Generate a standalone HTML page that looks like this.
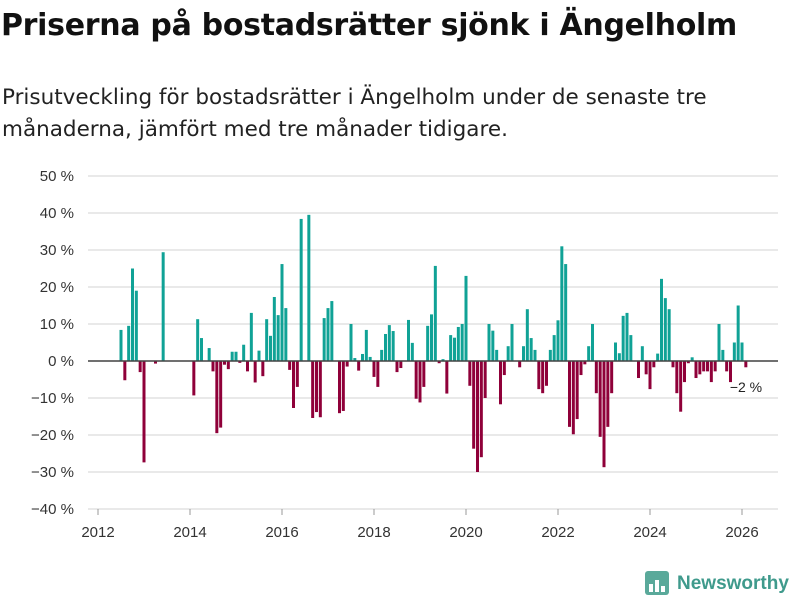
<!DOCTYPE html>
<html><head><meta charset="utf-8">
<style>
body{margin:0;background:#fff;font-family:"Liberation Sans","DejaVu Sans",sans-serif;}
#wrap{position:relative;width:800px;height:600px;overflow:hidden;}
h1{position:absolute;left:1px;top:8px;margin:0;font-family:"DejaVu Sans",sans-serif;font-size:30px;font-weight:bold;color:#111;letter-spacing:-0.3px;white-space:nowrap;}
p.sub{position:absolute;left:2px;top:82px;margin:0;font-family:"DejaVu Sans",sans-serif;font-size:21.5px;line-height:32px;color:#222;width:790px;white-space:nowrap;}
svg{position:absolute;left:0;top:0;}
</style></head><body>
<div id="wrap">
<h1>Priserna på bostadsrätter sjönk i Ängelholm</h1>
<p class="sub">Prisutveckling för bostadsrätter i Ängelholm under de senaste tre<br>månaderna, jämfört med tre månader tidigare.</p>
<svg id="chart" width="800" height="600"></svg>
</div>
<script>
const startYear = 2012;
const startMonthIndex = 6;
const values = [8.4,-5.2,9.5,25,19,-3,-27.4,null,null,-0.7,null,29.4,null,null,null,null,null,null,null,-9.3,11.3,6.2,null,3.5,-2.8,-19.5,-18,-1,-2.2,2.5,2.5,-0.5,4.4,-2.8,13,-5.8,2.8,-4.1,11.3,6.8,17.3,12.4,26.2,14.3,-2.4,-12.7,-7,38.4,null,39.5,-15.4,-13.8,-15.2,11.6,14.3,16.2,null,-14.1,-13.5,-1.5,10,0.8,-2.6,1.9,8.4,1.1,-4.3,-7,3,7.3,9.7,8.1,-3,-1.9,null,11.1,4.9,-10.2,-11.2,-7,9.5,12.6,25.7,-0.6,0.5,-8.8,7,6.3,9.2,10,23,-6.7,-23.7,-30,-26,-10,10,8.2,3,-11.7,-3.8,4,10,null,-1.7,4,14,6.2,3,-7.6,-8.7,-6.7,3,7,11,31,26.2,-17.8,-19.8,-15.7,-3.8,-0.9,4,10,-8.7,-20.5,-28.7,-17.8,-8.7,5,2.1,12.2,13,7,null,-4.6,4,-3.6,-7.6,-1.7,2,22.2,17,14,-1.7,-8.7,-13.7,-5.7,-0.6,1,-4.6,-3.6,-2.8,-2.8,-5.7,-2.8,10,3,-2.8,-5.7,5,15,5,-1.7];
const yTicks = [50,40,30,20,10,0,-10,-20,-30,-40];
const yTickLabels = ["50 %","40 %","30 %","20 %","10 %","0 %","−10 %","−20 %","−30 %","−40 %"];
const xTicks = [2012,2014,2016,2018,2020,2022,2024,2026];
const lastLabel = "−2 %";

const NS="http://www.w3.org/2000/svg";
const svg=document.getElementById('chart');
function yScale(v){return 361-(v*3.7);}
function xScale(yearFrac){return 98+(yearFrac-2012)*46;}
function mk(tag,attrs){const e=document.createElementNS(NS,tag);for(const k in attrs)e.setAttribute(k,attrs[k]);svg.appendChild(e);return e;}

yTicks.forEach((t,i)=>{
  const g=mk('line',{x1:88,x2:778,y1:yScale(t),y2:yScale(t),stroke:'#dcdcdc','stroke-width':1.2});
  
  
  const tx=mk('text',{x:74,y:yScale(t)+5,'text-anchor':'end','font-size':15,fill:'#333','font-family':'Liberation Sans, DejaVu Sans, sans-serif'});
  tx.textContent=yTickLabels[i];
  
  
});
xTicks.forEach(y=>{
  const x=xScale(y);
  const l=mk('line',{x1:x,x2:x,y1:509,y2:515,stroke:'#999','stroke-width':1});
  
  
  const tx=mk('text',{x:x,y:537,'text-anchor':'middle','font-size':15,fill:'#333','font-family':'Liberation Sans, DejaVu Sans, sans-serif'});
  tx.textContent=y;
  
  
});
let lastX=0,lastV=0;
values.forEach((v,i)=>{
  if(v===null)return;
  const m=startMonthIndex+i;
  const cx=xScale(startYear+m/12);
  const y0=yScale(0),y1=yScale(v);
  const r=mk('rect',{x:cx-1.5,y:Math.min(y0,y1),width:3,height:Math.abs(y1-y0),fill:v>=0?'#10a296':'#8f0039'});
  
  
  lastX=cx;lastV=v;
});
const zl=mk('line',{x1:88,x2:778,y1:yScale(0),y2:yScale(0),stroke:'#444','stroke-width':1.5});


const lt=mk('text',{x:lastX-16,y:yScale(0)+31,'font-size':14,fill:'#222','font-family':'Liberation Sans, DejaVu Sans, sans-serif'});
lt.textContent=lastLabel;



const lg=mk('g',{});


const box=document.createElementNS(NS,'rect');
box.setAttribute('x',645);box.setAttribute('y',571);box.setAttribute('width',24);box.setAttribute('height',24);box.setAttribute('rx',3);box.setAttribute('fill','#5aa99a');
lg.appendChild(box);
[[649,584,4,8],[655,580,4,12],[661,586,4,6]].forEach(b=>{
  const r=document.createElementNS(NS,'rect');
  r.setAttribute('x',b[0]);r.setAttribute('y',b[1]);r.setAttribute('width',b[2]);r.setAttribute('height',b[3]);r.setAttribute('fill','#fff');
  lg.appendChild(r);
});
const lt2=document.createElementNS(NS,'text');
lt2.setAttribute('x',677);lt2.setAttribute('y',589);lt2.setAttribute('font-size',19);lt2.setAttribute('font-weight','bold');lt2.setAttribute('fill','#3f9a8c');lt2.setAttribute('font-family','Liberation Sans, DejaVu Sans, sans-serif');
lt2.textContent='Newsworthy';
lg.appendChild(lt2);
</script>
</body></html>
